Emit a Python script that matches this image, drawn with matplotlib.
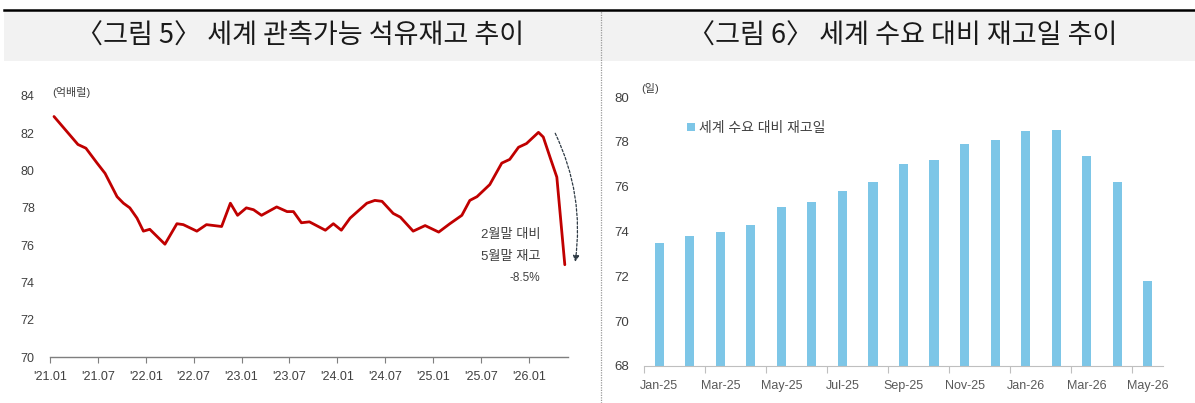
import matplotlib
matplotlib.use("Agg")
import matplotlib.pyplot as plt
from matplotlib.patches import Rectangle
from matplotlib.lines import Line2D

plt.rcParams["font.family"] = ["Liberation Sans", "Noto Sans CJK KR", "DejaVu Sans"]
plt.rcParams["axes.unicode_minus"] = False

# ---- data: left chart (months since 2021-01, 억배럴) ----
stock_month = [0.5, 3.5, 4.5, 5.9, 6.9, 8.4, 9.2, 10.0, 10.9, 11.7, 12.5, 14.4, 15.9, 16.7,
               18.4, 19.6, 21.5, 22.6, 23.5, 24.6, 25.5, 26.5, 28.4, 29.7, 30.5, 31.5, 32.5,
               34.5, 35.5, 36.5, 37.6, 39.7, 40.7, 41.6, 43.0, 43.9, 45.5, 47.0, 48.7, 50.1,
               51.6, 52.6, 53.5, 55.1, 56.6, 57.6, 58.7, 59.7, 61.2, 61.8, 62.7, 63.5, 64.5]
stock_value = [82.9, 81.4, 81.2, 80.4, 79.85, 78.6, 78.25, 78.0, 77.45, 76.75, 76.85, 76.05,
               77.15, 77.1, 76.75, 77.1, 77.0, 78.25, 77.6, 78.0, 77.9, 77.6, 78.05, 77.8,
               77.8, 77.2, 77.25, 76.8, 77.15, 76.8, 77.45, 78.25, 78.4, 78.35, 77.7, 77.5,
               76.75, 77.05, 76.7, 77.15, 77.6, 78.4, 78.6, 79.25, 80.4, 80.6, 81.25, 81.45,
               82.05, 81.8, 80.65, 79.65, 74.95]
stock_tick_pos = [0, 6, 12, 18, 24, 30, 36, 42, 48, 54, 60]
stock_tick_lbl = ["'21.01", "'21.07", "'22.01", "'22.07", "'23.01", "'23.07",
                  "'24.01", "'24.07", "'25.01", "'25.07", "'26.01"]

# ---- data: right chart (재고일) ----
day_months = ["Jan-25", "Feb-25", "Mar-25", "Apr-25", "May-25", "Jun-25", "Jul-25", "Aug-25",
              "Sep-25", "Oct-25", "Nov-25", "Dec-25", "Jan-26", "Feb-26", "Mar-26", "Apr-26",
              "May-26"]
day_values = [73.5, 73.8, 74.0, 74.3, 75.1, 75.3, 75.8, 76.2, 77.0, 77.2, 77.9, 78.1,
              78.5, 78.55, 77.35, 76.2, 71.8]

RED = "#C00000"
BLUE = "#7DC6E7"
TXT = "#404040"

fig = plt.figure(figsize=(11.95, 4.03), dpi=100, facecolor="white")

# ---- title bands ----
fig.patches.append(Rectangle((4 / 1195, 1 - 61 / 403), 1 - 4 / 1195, 50 / 403,
                             transform=fig.transFigure, facecolor="#F2F2F2",
                             edgecolor="none", zorder=0))
fig.lines.append(Line2D([4 / 1195, 1], [1 - 10 / 403] * 2, transform=fig.transFigure,
                        color="black", linewidth=1.8))
fig.lines.append(Line2D([601 / 1195] * 2, [0, 1 - 11 / 403], transform=fig.transFigure,
                        color="#9A9A9A", linewidth=0.9, linestyle=(0, (1, 1))))
fig.text(0.251, 1 - 36 / 403, "〈그림 5〉 세계 관측가능 석유재고 추이", ha="center", va="center",
         fontsize=19.5, color="#1A1A1A", family=["Noto Sans CJK KR"])
fig.text(0.755, 1 - 36 / 403, "〈그림 6〉 세계 수요 대비 재고일 추이", ha="center", va="center",
         fontsize=19.5, color="#1A1A1A", family=["Noto Sans CJK KR"])

# ---- left: line chart ----
ax1 = fig.add_axes([50 / 1195, 1 - 357 / 403, 518 / 1195, 261 / 403])
ax1.plot(stock_month, stock_value, color=RED, linewidth=2.0, solid_joinstyle="round",
         solid_capstyle="round")
ax1.set_xlim(0, 64.9)
ax1.set_ylim(70, 84)
ax1.set_yticks(range(70, 85, 2))
ax1.set_xticks(stock_tick_pos)
ax1.set_xticklabels(stock_tick_lbl)
for s in ["top", "right", "left"]:
    ax1.spines[s].set_visible(False)
ax1.spines["bottom"].set_color("#7F7F7F")
ax1.spines["bottom"].set_linewidth(1.0)
ax1.tick_params(axis="y", length=0, pad=11, labelsize=9, labelcolor=TXT)
ax1.tick_params(axis="x", length=4, width=0.8, color="#7F7F7F", pad=6, labelsize=9,
                labelcolor=TXT, direction="out")
ax1.text(0.004, 1.012, "(억배럴)", transform=ax1.transAxes, fontsize=8, color=TXT,
         ha="left", va="center")

# dashed arrow + annotation
ax1.annotate("", xy=(65.8, 75.1), xytext=(63.3, 82.0), annotation_clip=False,
             arrowprops=dict(arrowstyle="-|>", connectionstyle="arc3,rad=-0.15",
                             color="#2F3B45", linestyle=(0, (2, 1.5)), linewidth=0.9,
                             mutation_scale=9, shrinkA=0, shrinkB=0))
ax1.text(61.4, 76.55, "2월말 대비", fontsize=9.5, color=TXT, ha="right", va="center")
ax1.text(61.4, 75.36, "5월말 재고", fontsize=9.5, color=TXT, ha="right", va="center")
ax1.text(61.4, 74.24, "-8.5%", fontsize=8.5, color=TXT, ha="right", va="center")

# ---- right: bar chart ----
ax2 = fig.add_axes([644 / 1195, 1 - 366 / 403, 519 / 1195, 269 / 403])
xs = list(range(len(day_values)))
ax2.bar(xs, [v - 68 for v in day_values], bottom=68, width=0.3, color=BLUE,
        label="세계 수요 대비 재고일")
ax2.set_xlim(-0.5, 16.5)
ax2.set_ylim(68, 80)
ax2.set_yticks(range(68, 81, 2))
ax2.set_xticks(xs[::2])
ax2.set_xticklabels(day_months[::2])
ax2.set_xticks([x - 0.5 for x in xs[::2]], minor=True)
for s in ["top", "right", "left"]:
    ax2.spines[s].set_visible(False)
ax2.spines["bottom"].set_color("#BFBFBF")
ax2.tick_params(axis="y", length=0, pad=11, labelsize=9.5, labelcolor=TXT)
ax2.tick_params(axis="x", which="major", length=0, pad=10, labelsize=9, labelcolor="#595959")
ax2.tick_params(axis="x", which="minor", length=5, color="#BFBFBF", width=0.8)
ax2.text(-0.006, 1.033, "(일)", transform=ax2.transAxes, fontsize=8, color=TXT,
         ha="left", va="center")
ax2.legend(loc="center left", bbox_to_anchor=(0.058, 0.885), frameon=False, fontsize=10,
           handlelength=0.6, handleheight=0.6, handletextpad=0.3, labelcolor=TXT)

fig.savefig("out.png", dpi=100, facecolor="white")
